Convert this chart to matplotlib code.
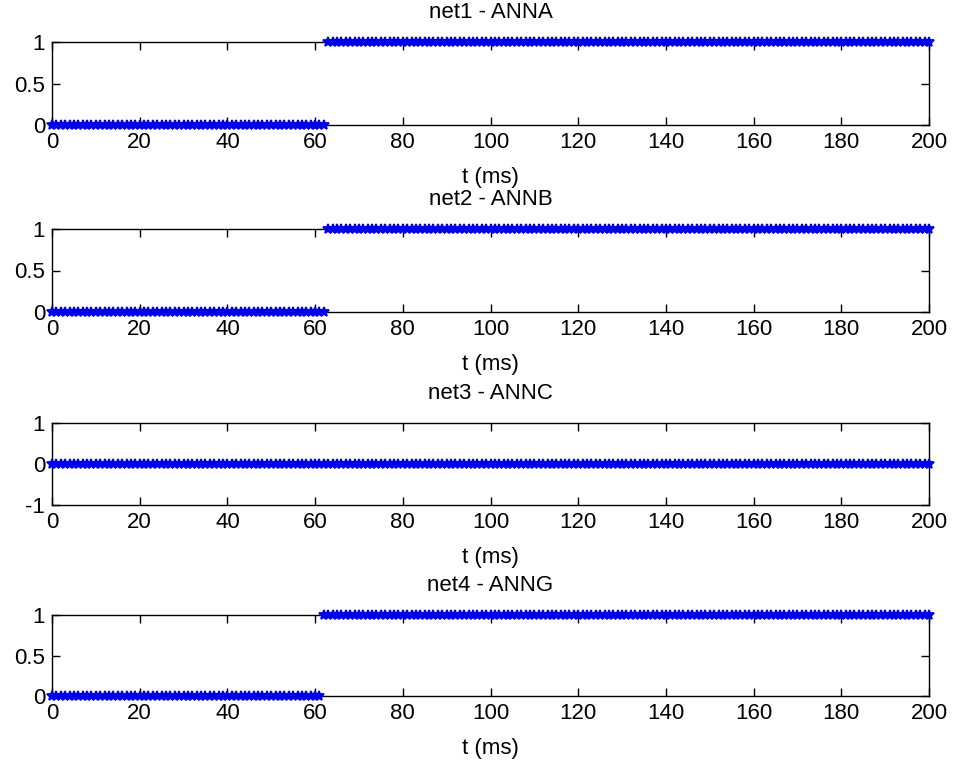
import matplotlib.pyplot as plt
import numpy as np

# time axis (ms), sampled every 1 ms
t_ms = np.arange(0, 201, 1)

titles = ['net1 - ANNA', 'net2 - ANNB', 'net3 - ANNC', 'net4 - ANNG']
# last sample where output is 0 (None -> stays 0 over whole run)
last_zero_ms = [62, 62, None, 61]
y_ticks = [[0, 0.5, 1], [0, 0.5, 1], [-1, 0, 1], [0, 0.5, 1]]
y_ticklabels = [['0', '0.5', '1'], ['0', '0.5', '1'], ['-1', '0', '1'], ['0', '0.5', '1']]
y_lims = [(0, 1), (0, 1), (-1, 1), (0, 1)]
x_ticks = list(range(0, 201, 20))

plt.rcParams['font.family'] = ['Liberation Sans', 'DejaVu Sans']
fs = 16

fig = plt.figure(figsize=(9.55, 7.64), dpi=100)
W, H = 955, 764
# axes top/bottom in pixels
tops = [42, 229, 423, 615]
bottoms = [125, 312, 505, 696]
left, right = 52, 929

for i in range(4):
    ax = fig.add_axes([left / W, 1 - bottoms[i] / H, (right - left) / W,
                       (bottoms[i] - tops[i]) / H])
    if last_zero_ms[i] is None:
        y = np.zeros_like(t_ms, dtype=float)
    else:
        y = np.where(t_ms <= last_zero_ms[i], 0.0, 1.0)
    ax.plot(t_ms, y, linestyle='none', marker='*', markersize=7,
            color=(0, 0, 0.9), markeredgewidth=1.3, clip_on=False, zorder=3)
    ax.set_xlim(0, 200)
    ax.set_ylim(*y_lims[i])
    ax.set_xticks(x_ticks)
    ax.set_xticklabels([str(v) for v in x_ticks], fontsize=fs)
    ax.set_yticks(y_ticks[i])
    ax.set_yticklabels(y_ticklabels[i], fontsize=fs)
    ax.tick_params(direction='in', length=6, width=1, top=True, right=True,
                   color='black')
    ax.tick_params(axis='x', pad=5)
    ax.tick_params(axis='y', pad=5)
    for s in ax.spines.values():
        s.set_linewidth(1)
    ax.set_title(titles[i], fontsize=fs, pad=17)
    ax.set_xlabel('t (ms)', fontsize=fs, labelpad=10)

fig.savefig('out.png', dpi=100, facecolor='white')
